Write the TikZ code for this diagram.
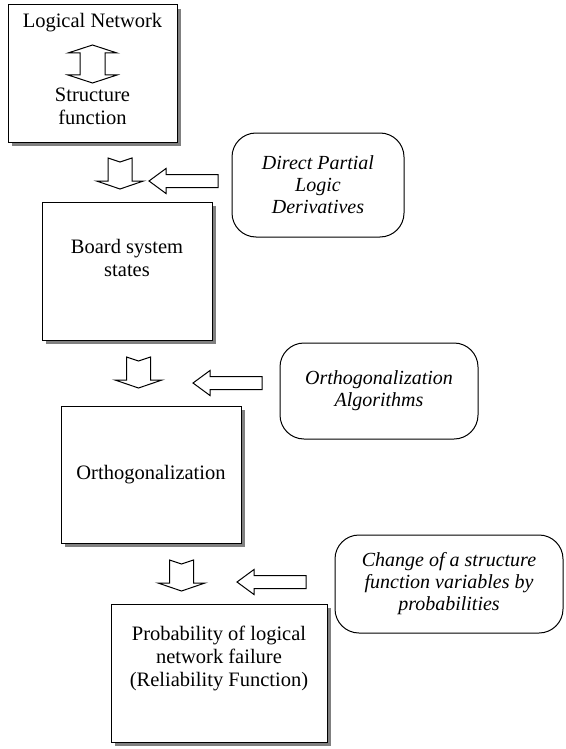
\documentclass[tikz,border=0pt]{standalone}
\usepackage{fontspec}
\setmainfont{Liberation Serif}
\usetikzlibrary{shadows}
\begin{document}
\begin{tikzpicture}[x=1pt,y=-1pt,line width=1pt,font=\fontsize{20.5}{23}\selectfont,
box/.style={rectangle,draw,fill=white,inner sep=0pt,drop shadow={shadow xshift=4pt,shadow yshift=-4pt,fill=gray,opacity=1}},
note/.style={rectangle,draw,rounded corners=24pt,align=center,inner sep=0pt,font=\fontsize{20}{22}\selectfont\itshape},
blk/.style={draw,fill=white,line join=miter},
downarr/.pic={\path[blk] (-12,0) -- (0,4) -- (12,0) -- (12,23) -- (23.5,23) -- (0,31) -- (-23.5,23) -- (-12,23) -- cycle;},
leftarr/.pic={\path[blk] (0,0) -- (17,-12.5) -- (17,-6.5) -- (69,-6.5) -- (69,6.5) -- (17,6.5) -- (17,12.5) -- cycle;}]
\useasboundingbox (0,0) rectangle (565,749);
\node [box,minimum width=169,minimum height=137] (network) at (92.5,73.5) {};
\node (network-t) at (92.5,23) {Logical Network};
\path[blk] (92.5,45) -- (117,53) -- (105,53) -- (105,75) -- (117,75) -- (92.5,83) -- (68,75) -- (80,75) -- (80,53) -- (68,53) -- cycle;
\node [align=center] (structure) at (92.5,106) {Structure\\function};
\node [box,minimum width=170,minimum height=138] (states) at (127,271) {};
\node [align=center] (states-t) at (127,257.5) {Board system\\states};
\node [box,minimum width=180,minimum height=137] (ortho) at (151,474.5) {Orthogonalization};
\node [box,minimum width=216,minimum height=138] (prob) at (219,673) {};
\node [align=center] (prob-t) at (219,658) {Probability of logical\\network failure\\(Reliability Function)};
\node [note,minimum width=172,minimum height=104] (dpld) at (318,185) {Direct Partial\\Logic\\Derivatives};
\node [note,minimum width=198,minimum height=96] (algo) at (379,391) {Orthogonalization\\Algorithms};
\node [note,minimum width=228,minimum height=98] (change) at (449,584) {Change of a structure\\function variables by\\probabilities};
\pic at (120,158) {downarr};
\pic at (138.5,357) {downarr};
\pic at (181.5,560) {downarr};
\pic at (149,181) {leftarr};
\pic at (193,383) {leftarr};
\pic at (237,582) {leftarr};
\end{tikzpicture}
\end{document}
